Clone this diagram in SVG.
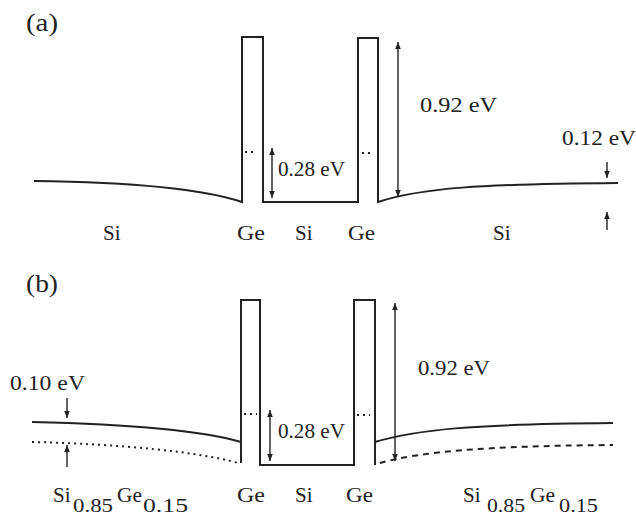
<svg xmlns="http://www.w3.org/2000/svg" width="636" height="518" viewBox="0 0 636 518">
<defs>
<marker id="ah" viewBox="0 0 10 10" refX="10" refY="5" markerWidth="7" markerHeight="9" markerUnits="userSpaceOnUse" orient="auto-start-reverse">
<path d="M0,1 L10,5 L0,9 Z" fill="#222"/>
</marker>
</defs>
<style>
.band{fill:none;stroke:#222;stroke-width:2;stroke-linejoin:miter}
.dot{fill:none;stroke:#222;stroke-width:2;stroke-dasharray:2 4}
.dash{fill:none;stroke:#222;stroke-width:2;stroke-dasharray:6 5}
.arr{fill:none;stroke:#222;stroke-width:1.4}
text{font-family:"Liberation Serif","Times New Roman",serif;font-size:21px;fill:#222}
.sub{font-size:18px}
.pl{font-size:25px}
</style>
<rect width="636" height="518" fill="#fff"/>

<g id="panel-a">
<text class="pl" x="26" y="31" textLength="32" lengthAdjust="spacingAndGlyphs">(a)</text>
<g id="bands-a">
<path class="band" d="M34,181 C120,182 200,188 242,202 L242,37 L263,37 L263,202 L358,202 L358,38 L378,38 L378,202 C420,188 480,184 618,183"/>
<path class="dot" d="M245,152 L257,152 M362,153 L374,153"/>
</g>
<g id="connectors-a">
<line class="arr" x1="272" y1="148" x2="272" y2="198" marker-start="url(#ah)" marker-end="url(#ah)"/>
<line class="arr" x1="398" y1="42" x2="398" y2="197" marker-start="url(#ah)" marker-end="url(#ah)"/>
<line class="arr" x1="607" y1="162" x2="607" y2="178" marker-end="url(#ah)"/>
<line class="arr" x1="607" y1="230" x2="607" y2="212" marker-end="url(#ah)"/>
</g>
<g id="labels-a">
<text x="278" y="176" textLength="67" lengthAdjust="spacingAndGlyphs">0.28 eV</text>
<text x="420" y="112" textLength="77" lengthAdjust="spacingAndGlyphs">0.92 eV</text>
<text x="562" y="145" textLength="74" lengthAdjust="spacingAndGlyphs">0.12 eV</text>
<text x="103" y="240">Si</text>
<text x="237" y="240" textLength="28" lengthAdjust="spacingAndGlyphs">Ge</text>
<text x="295" y="240">Si</text>
<text x="348" y="240" textLength="27" lengthAdjust="spacingAndGlyphs">Ge</text>
<text x="493" y="240">Si</text>
</g>
</g>

<g id="panel-b">
<text class="pl" x="26" y="292" textLength="32" lengthAdjust="spacingAndGlyphs">(b)</text>
<g id="bands-b">
<path class="band" d="M32,422 C120,424 200,430 241,442"/>
<path class="dot" d="M32,442 C120,444 200,452 238,463"/>
<path class="band" d="M241,463 L241,300 L260,300 L260,465 L354,465 L354,300 L375,300 L375,465"/>
<path class="band" d="M375,442 C415,430 470,424 613,423"/>
<path class="dash" d="M380,463 C420,452 480,446 613,445"/>
<path class="dot" d="M244,414 L257,414 M357,415 L370,415"/>
</g>
<g id="connectors-b">
<line class="arr" x1="270" y1="410" x2="270" y2="461" marker-start="url(#ah)" marker-end="url(#ah)"/>
<line class="arr" x1="395" y1="303" x2="395" y2="461" marker-start="url(#ah)" marker-end="url(#ah)"/>
<line class="arr" x1="67" y1="398" x2="67" y2="418" marker-end="url(#ah)"/>
<line class="arr" x1="67" y1="467" x2="67" y2="445" marker-end="url(#ah)"/>
</g>
<g id="labels-b">
<text x="10" y="390" textLength="75" lengthAdjust="spacingAndGlyphs">0.10 eV</text>
<text x="278" y="438" textLength="67" lengthAdjust="spacingAndGlyphs">0.28 eV</text>
<text x="418" y="375" textLength="72" lengthAdjust="spacingAndGlyphs">0.92 eV</text>
<text x="237" y="502" textLength="28" lengthAdjust="spacingAndGlyphs">Ge</text>
<text x="295" y="502">Si</text>
<text x="346" y="502" textLength="27" lengthAdjust="spacingAndGlyphs">Ge</text>
<text x="53" y="502">Si</text>
<text class="sub" x="73" y="512" textLength="40" lengthAdjust="spacingAndGlyphs">0.85</text>
<text x="117" y="502" textLength="25" lengthAdjust="spacingAndGlyphs">Ge</text>
<text class="sub" x="143" y="512" textLength="45" lengthAdjust="spacingAndGlyphs">0.15</text>
<text x="463" y="502">Si</text>
<text class="sub" x="487" y="512" textLength="38" lengthAdjust="spacingAndGlyphs">0.85</text>
<text x="530" y="502" textLength="25" lengthAdjust="spacingAndGlyphs">Ge</text>
<text class="sub" x="559" y="512" textLength="39" lengthAdjust="spacingAndGlyphs">0.15</text>
</g>
</g>
</svg>
